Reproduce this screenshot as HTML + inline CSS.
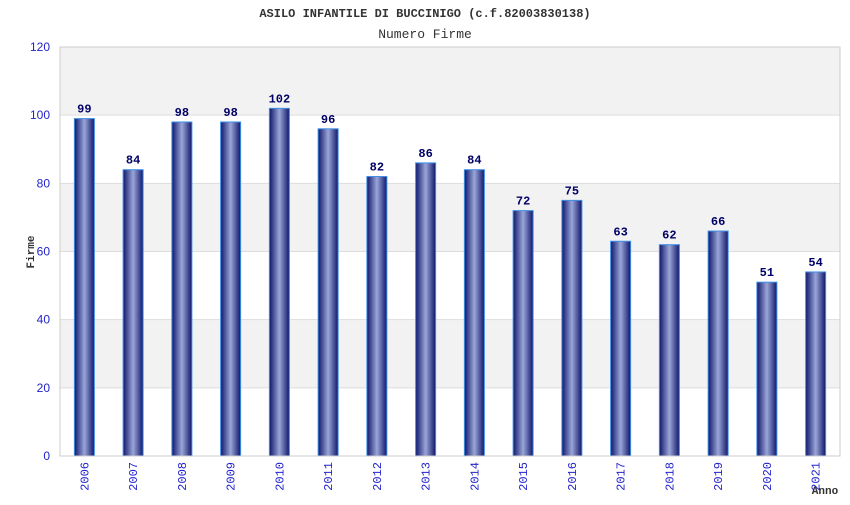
<!DOCTYPE html>
<html><head><meta charset="utf-8"><style>
body{margin:0;background:#fff;}
svg text{font-family:"Liberation Mono","DejaVu Sans Mono",monospace;}
</style></head><body>
<svg id="chart" width="850" height="500">
<defs>
<linearGradient id="bg" x1="0" x2="1" y1="0" y2="0">
<stop offset="0" stop-color="#10166a"/><stop offset="0.5" stop-color="#9aa6d8"/><stop offset="1" stop-color="#10166a"/>
</linearGradient>
</defs>
<text x="425" y="17" text-anchor="middle" font-size="12" font-weight="bold" fill="#333">ASILO INFANTILE DI BUCCINIGO (c.f.82003830138)</text>
<text x="425" y="38" text-anchor="middle" font-size="13" fill="#333">Numero Firme</text>
<g id="bands"></g><g id="yax"></g><g id="bars"></g><g id="xax"></g>
<rect x="60" y="47" width="780" height="409" fill="none" stroke="#ccc"/>
<text transform="translate(34,252) rotate(-90)" text-anchor="middle" font-size="11" font-weight="bold" fill="#333">Firme</text>
<text x="825" y="494" text-anchor="middle" font-size="11" font-weight="bold" fill="#333">Anno</text>
</svg>
<script>
const years=["2006","2007","2008","2009","2010","2011","2012","2013","2014","2015","2016","2017","2018","2019","2020","2021"];
const firme=[99,84,98,98,102,96,82,86,84,72,75,63,62,66,51,54];
const yTicks=[0,20,40,60,80,100,120];
const NS="http://www.w3.org/2000/svg";
const X0=60,W=780,Y0=456,H=409,YMAX=120;
const y=v=>Y0-v/YMAX*H;
const band=W/years.length;
const xc=i=>X0+band*(i+0.5);
function mk(t,a,p){const e=document.createElementNS(NS,t);for(const k in a)e.setAttribute(k,a[k]);p.appendChild(e);return e;}
const gB=document.getElementById('bands'),gY=document.getElementById('yax'),gBar=document.getElementById('bars'),gX=document.getElementById('xax');
for(let i=0;i<yTicks.length-1;i++){
  const r=mk('rect',{x:X0,y:y(yTicks[i+1]),width:W,height:y(yTicks[i])-y(yTicks[i+1]),fill:i%2?'#f2f2f2':'#fff'},gB);
  
  
}
yTicks.forEach(v=>{
  const l=mk('line',{x1:X0,x2:X0+W,y1:y(v),y2:y(v),stroke:'#ddd'},gY);
  
  
  const t=mk('text',{x:X0-10,y:y(v)+4,'text-anchor':'end','font-size':12,fill:'#2222cc',style:'font-family:"Liberation Sans",sans-serif'},gY);
  t.textContent=v;
  
  
});
years.forEach((yr,i)=>{
  const v=firme[i],bw=20;
  const r=mk('rect',{x:xc(i)-bw/2,y:y(v),width:bw,height:Y0-y(v),fill:'url(#bg)',stroke:'#3d8fe8','stroke-width':1},gBar);
  
  
  const t=mk('text',{x:xc(i),y:y(v)-6,'text-anchor':'middle','font-size':12,'font-weight':'bold',fill:'#000066'},gBar);
  t.textContent=v;
  
  
  const xl=mk('text',{transform:`translate(${xc(i)+4},462) rotate(-90)`,'text-anchor':'end','font-size':12,fill:'#2222cc'},gX);
  xl.textContent=yr;
  
  
});
</script>
</body></html>
